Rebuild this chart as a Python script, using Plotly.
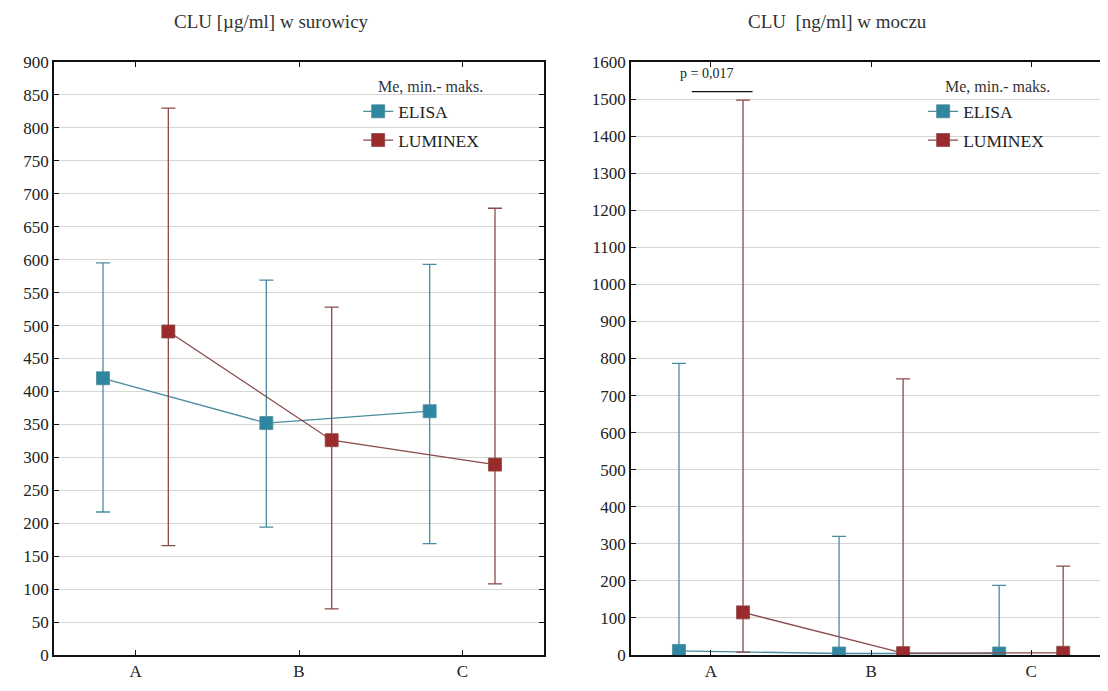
import plotly.graph_objects as go

categories = ["A", "B", "C"]

# Serum CLU [µg/ml]
serum_elisa_me = [420, 352, 370]
serum_elisa_min = [217, 194, 169]
serum_elisa_max = [595, 569, 593]
serum_lum_me = [491, 326, 289]
serum_lum_min = [166, 70, 108]
serum_lum_max = [830, 528, 678]

# Urine CLU [ng/ml]
urine_elisa_me = [11, 4, 4]
urine_elisa_min = [0, 0, 0]
urine_elisa_max = [787, 320, 188]
urine_lum_me = [115, 5, 6]
urine_lum_min = [8, 0, 0]
urine_lum_max = [1497, 745, 240]

ELISA_C = "#2f86a0"
ELISA_L = "#4a8c9e"
LUM_C = "#9b2a2a"
LUM_L = "#8a4a4a"
FONT = "Liberation Serif"

off = 0.2
xi = list(range(len(categories)))
x_el = [i - off for i in xi]
x_lu = [i + off for i in xi]

fig = go.Figure()


def add_series(x, me, mn, mx, name, mc, lc, xa, ya, legend, group):
    fig.add_trace(go.Scatter(
        x=x, y=me, name=name, mode="lines+markers",
        line=dict(color=lc, width=1.3),
        marker=dict(symbol="square", size=13, color=mc, line=dict(color=lc, width=0.8)),
        error_y=dict(type="data", symmetric=False,
                     array=[a - b for a, b in zip(mx, me)],
                     arrayminus=[b - a for a, b in zip(mn, me)],
                     color=lc, thickness=1.3, width=7),
        xaxis=xa, yaxis=ya, legend=legend, legendgroup=group, showlegend=True,
    ))


add_series(x_el, serum_elisa_me, serum_elisa_min, serum_elisa_max, "ELISA", ELISA_C, ELISA_L, "x", "y", "legend", "g1")
add_series(x_lu, serum_lum_me, serum_lum_min, serum_lum_max, "LUMINEX", LUM_C, LUM_L, "x", "y", "legend", "g2")
add_series(x_el, urine_elisa_me, urine_elisa_min, urine_elisa_max, "ELISA", ELISA_C, ELISA_L, "x2", "y2", "legend2", "g3")
add_series(x_lu, urine_lum_me, urine_lum_min, urine_lum_max, "LUMINEX", LUM_C, LUM_L, "x2", "y2", "legend2", "g4")

axis_common = dict(
    showline=True, linecolor="#111", linewidth=1.5, mirror="ticks",
    ticks="inside", ticklen=5, tickcolor="#111",
    tickfont=dict(family=FONT, size=17, color="#222"),
    zeroline=False, automargin=False,
)
legend_common = dict(
    xanchor="left", yanchor="top", bgcolor="rgba(0,0,0,0)",
    font=dict(family=FONT, size=17.5, color="#222"), itemwidth=30,
    tracegroupgap=3, traceorder="grouped",
)
fig.update_layout(
    width=1100, height=683,
    margin=dict(l=46, r=0, t=54, b=36, autoexpand=False),
    paper_bgcolor="white", plot_bgcolor="white",
    xaxis=dict(domain=[0.0, 0.4649], range=[-0.5, 2.5], tickvals=xi, ticktext=categories,
               showgrid=False, **axis_common),
    yaxis=dict(domain=[0, 1], range=[0, 900], dtick=50, showgrid=True, gridcolor="#d6d6d6",
               gridwidth=1, **axis_common),
    xaxis2=dict(domain=[0.5474, 1.0], range=[-0.5, 2.48], tickvals=xi, ticktext=categories,
                showgrid=False, anchor="y2", **axis_common),
    yaxis2=dict(domain=[0, 1], range=[0, 1600], dtick=100, showgrid=True, gridcolor="#d6d6d6",
                gridwidth=1, anchor="x2", **axis_common),
    legend=dict(x=0.2886, y=0.947, **legend_common),
    legend2=dict(x=0.8246, y=0.947, **legend_common),
    showlegend=True,
)

for lx in (0.3055, 0.8435):
    fig.add_annotation(text="Me, min.- maks.", xref="paper", yref="paper", x=lx, y=0.958,
                       xanchor="left", yanchor="middle", showarrow=False,
                       font=dict(family=FONT, size=16, color="#333"))

fig.add_annotation(text="CLU [µg/ml] w surowicy", xref="paper", yref="paper", x=0.2068, y=1.0675,
                   xanchor="center", yanchor="middle", showarrow=False,
                   font=dict(family=FONT, size=19, color="#333"))
fig.add_annotation(text="CLU  [ng/ml] w moczu", xref="paper", yref="paper", x=0.7438, y=1.0675,
                   xanchor="center", yanchor="middle", showarrow=False,
                   font=dict(family=FONT, size=19, color="#333"))

# significance marker between ELISA and LUMINEX in group A (urine)
fig.add_shape(type="line", xref="x2", yref="y2", x0=-0.12, x1=0.26, y0=1520, y1=1520,
              line=dict(color="#111", width=1.3))
fig.add_annotation(text="p = 0,017", xref="x2", yref="y2", x=-0.03, y=1568, showarrow=False,
                   xanchor="center", yanchor="middle",
                   font=dict(family=FONT, size=14, color="#222"))

fig.write_html("out.html")
